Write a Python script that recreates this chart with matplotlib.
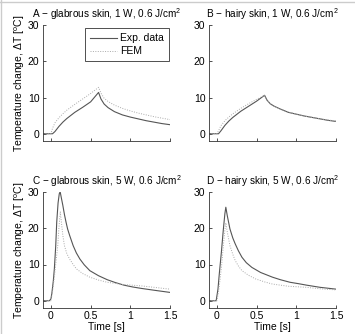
import matplotlib
matplotlib.use("Agg")
import matplotlib.pyplot as plt
from matplotlib.lines import Line2D

plt.rcParams['font.family'] = ['Liberation Sans', 'DejaVu Sans']
plt.rcParams['font.size'] = 7
plt.rcParams['mathtext.default'] = 'regular'

# panel A - glabrous skin, 1 W
t_exp_a = [-0.1, 0.0, 0.02, 0.05, 0.1, 0.15, 0.2, 0.3, 0.4, 0.5, 0.6, 0.63, 0.67, 0.72, 0.8, 0.9, 1.0, 1.1, 1.2, 1.3, 1.4, 1.5]
exp_a = [0, 0, 0, 0.6, 2.0, 3.2, 4.2, 5.9, 7.3, 8.8, 11.4, 9.6, 8.2, 7.2, 6.1, 5.2, 4.6, 4.1, 3.6, 3.2, 2.8, 2.5]
t_fem_a = [-0.1, 0.0, 0.02, 0.05, 0.1, 0.15, 0.2, 0.3, 0.4, 0.5, 0.6, 0.63, 0.67, 0.72, 0.8, 0.9, 1.0, 1.1, 1.2, 1.3, 1.4, 1.5]
fem_a = [0, 0, 1.5, 3.0, 4.4, 5.5, 6.5, 8.1, 9.6, 11.1, 12.8, 11.2, 9.8, 8.9, 7.9, 7.0, 6.3, 5.7, 5.2, 4.7, 4.3, 3.9]

# panel B - hairy skin, 1 W
t_exp_b = [-0.1, 0.0, 0.02, 0.05, 0.1, 0.15, 0.2, 0.3, 0.4, 0.5, 0.6, 0.63, 0.67, 0.72, 0.8, 0.9, 1.0, 1.1, 1.2, 1.3, 1.4, 1.5]
exp_b = [0, 0, 0, 0.8, 2.3, 3.5, 4.5, 6.2, 7.6, 9.0, 10.6, 9.3, 8.3, 7.6, 6.8, 5.9, 5.4, 4.9, 4.5, 4.1, 3.7, 3.4]
t_fem_b = [-0.1, 0.0, 0.02, 0.05, 0.1, 0.15, 0.2, 0.3, 0.4, 0.5, 0.6, 0.63, 0.67, 0.72, 0.8, 0.9, 1.0, 1.1, 1.2, 1.3, 1.4, 1.5]
fem_b = [0, 0, 0.8, 2.2, 3.6, 4.6, 5.5, 7.0, 8.3, 9.5, 10.6, 9.3, 8.3, 7.6, 6.8, 6.0, 5.4, 4.9, 4.5, 4.1, 3.8, 3.5]

# panel C - glabrous skin, 5 W
t_exp_c = [-0.1, -0.02, 0.0, 0.013, 0.03, 0.043, 0.06, 0.073, 0.09, 0.105, 0.116, 0.13, 0.15, 0.17, 0.19, 0.21, 0.236, 0.28, 0.32, 0.365, 0.42, 0.49, 0.6, 0.71, 0.8, 0.92, 1.03, 1.14, 1.3, 1.5]
exp_c = [0, 0, 0.5, 2.3, 5.5, 8.8, 15, 21.7, 27, 29.5, 30.1, 28.5, 26.3, 23.8, 21.7, 19.8, 18.0, 15.2, 13.2, 11.5, 9.9, 8.3, 6.9, 5.8, 5.1, 4.3, 3.8, 3.4, 2.9, 2.3]
t_fem_c = [-0.1, 0.0, 0.02, 0.04, 0.06, 0.086, 0.1, 0.118, 0.135, 0.15, 0.17, 0.2, 0.236, 0.28, 0.32, 0.4, 0.49, 0.6, 0.71, 0.9, 1.14, 1.3, 1.5]
fem_c = [0, 0, 2.5, 6, 10, 15.2, 20, 24.5, 21, 18, 15.2, 13, 11.5, 10, 8.8, 7.5, 6.5, 5.7, 5.1, 4.5, 4.1, 3.7, 3.2]

# panel D - hairy skin, 5 W
t_exp_d = [-0.1, -0.01, 0.013, 0.03, 0.056, 0.08, 0.1, 0.112, 0.13, 0.164, 0.2, 0.23, 0.27, 0.315, 0.37, 0.44, 0.55, 0.7, 0.8, 0.92, 1.03, 1.13, 1.3, 1.5]
exp_d = [0, 0, 3.2, 7.5, 13.4, 19.5, 24, 25.8, 23.5, 19.8, 17.3, 15.7, 13.8, 12.0, 10.5, 9.2, 7.8, 6.5, 5.8, 5.1, 4.7, 4.3, 3.7, 3.2]
t_fem_d = [-0.1, 0.0, 0.02, 0.04, 0.06, 0.08, 0.1, 0.112, 0.13, 0.164, 0.2, 0.23, 0.27, 0.315, 0.4, 0.49, 0.6, 0.7, 0.9, 1.13, 1.3, 1.5]
fem_d = [0, 0, 2.5, 6, 10, 15, 19.5, 21.5, 19, 15.2, 12.8, 11.1, 9.6, 8.3, 7.0, 6.0, 5.2, 4.6, 4.0, 3.7, 3.3, 3.0]

titles = ['A \u2212 glabrous skin, 1 W, 0.6 J/cm$^2$',
          'B \u2212 hairy skin, 1 W, 0.6 J/cm$^2$',
          'C \u2212 glabrous skin, 5 W, 0.6 J/cm$^2$',
          'D \u2212 hairy skin, 5 W, 0.6 J/cm$^2$']
x_ticks = [0, 0.5, 1, 1.5]
x_ticklabels = ['0', '0.5', '1', '1.5']
y_ticks = [0, 10, 20, 30]

panels = [(t_exp_a, exp_a, t_fem_a, fem_a),
          (t_exp_b, exp_b, t_fem_b, fem_b),
          (t_exp_c, exp_c, t_fem_c, fem_c),
          (t_exp_d, exp_d, t_fem_d, fem_d)]

W, H = 355, 334
fig = plt.figure(figsize=(W / 100, H / 100), dpi=100)

# axes boxes in pixels: left, top, right, bottom
boxes = [(43, 25, 170, 141), (209, 25, 336, 141),
         (43, 192, 170, 308), (209, 192, 336, 308)]

for i, (box, (te, ye, tf, yf)) in enumerate(zip(boxes, panels)):
    l, t, r, b = box
    ax = fig.add_axes([l / W, (H - b) / H, (r - l) / W, (b - t) / H])
    ax.plot(te, ye, color='#555555', lw=0.8, label='Exp. data')
    ax.plot(tf, yf, color='#aaaaaa', lw=0.7, ls=(0, (1, 1.5)), label='FEM')
    ax.set_xlim(-0.1, 1.5)
    ax.set_ylim(-2, 30)
    ax.spines['top'].set_visible(False)
    ax.spines['right'].set_visible(False)
    for s in ['left', 'bottom']:
        ax.spines[s].set_linewidth(0.6)
        ax.spines[s].set_color('#333333')
    ax.tick_params(direction='in', length=2.5, width=0.6, color='#333333', pad=2.5,
                   labelsize=7.5)
    ax.set_xticks(x_ticks)
    ax.set_yticks(y_ticks)
    if i >= 2:
        ax.set_xticklabels(x_ticklabels)
        ax.set_xlabel('Time [s]', labelpad=0.5, fontsize=7.5)
    else:
        ax.set_xticklabels([])
    if i % 2 == 0:
        ax.set_ylabel('Temperature change, \u0394T [$^o$C]', labelpad=1, fontsize=7.5)
    ax.set_title(titles[i], fontsize=7.2, pad=5)
    if i == 0:
        leg = ax.legend(loc='upper right', bbox_to_anchor=(0.99, 0.97),
                        fancybox=False, framealpha=1, edgecolor='#333333',
                        handlelength=2.6, borderpad=0.45, labelspacing=0.3,
                        handletextpad=0.3, borderaxespad=0, fontsize=7.5)
        leg.get_frame().set_linewidth(0.6)

# thin grey frame edges seen at top and left of the image
fig.add_artist(Line2D([0, 1], [0.995, 0.995], transform=fig.transFigure, color='#cccccc', lw=1))
fig.add_artist(Line2D([0.003, 0.003], [0, 1], transform=fig.transFigure, color='#cccccc', lw=1))

fig.savefig('out.png', dpi=100)
